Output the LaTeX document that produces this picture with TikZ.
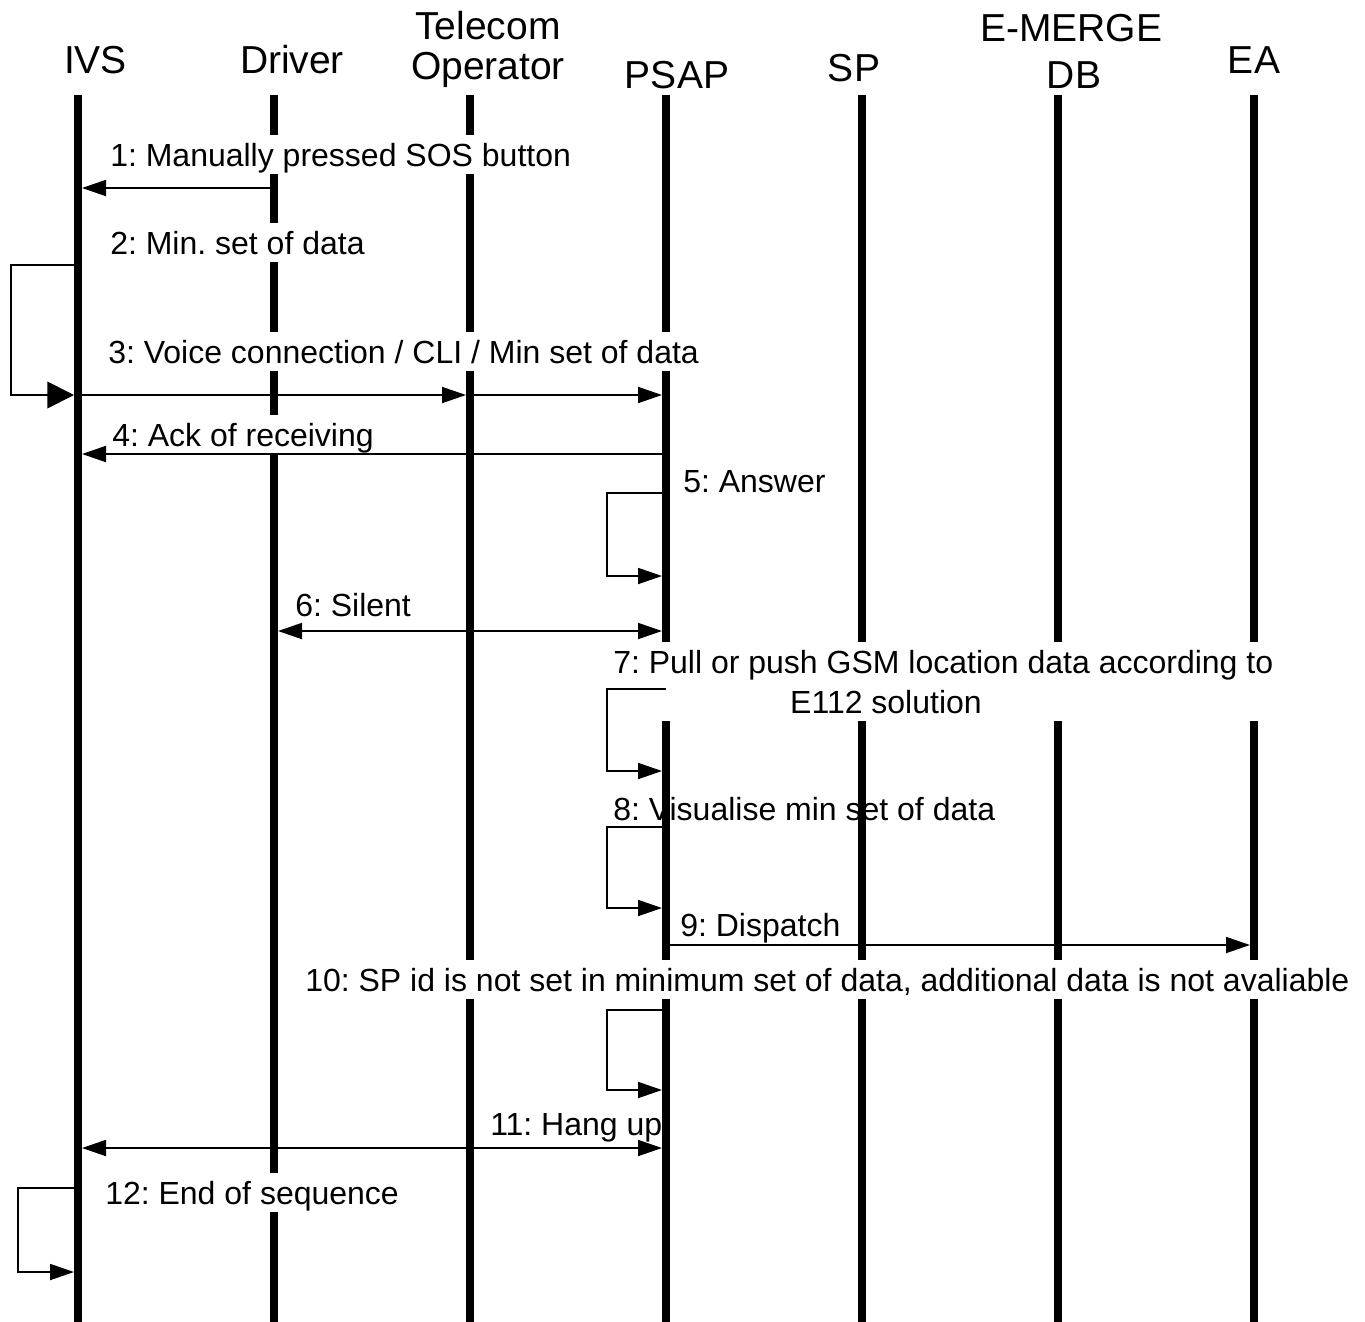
\documentclass[tikz,border=0pt]{standalone}
\usepackage{fontspec}
\setmainfont{Liberation Sans}
\usetikzlibrary{arrows.meta}
\begin{document}
\begin{tikzpicture}[x=0.75pt,y=-0.75pt,
  head/.style={font=\fontsize{29.25}{35}\selectfont, inner sep=0pt, anchor=base},
  lifeline/.style={line width=5.6pt},
  msg/.style={line width=1.4pt, -{Triangle[length=18pt,width=12pt]}},
  bigmsg/.style={line width=1.4pt, -{Triangle[length=20pt,width=20pt]}},
  dmsg/.style={line width=1.4pt, {Triangle[length=18pt,width=12pt]}-{Triangle[length=18pt,width=12pt]}},
  lbl/.style={font=\fontsize{24}{29}\selectfont\frenchspacing, inner sep=0pt, anchor=base west,
    text height=23pt, text depth=6pt, fill=white},
  plainlbl/.style={lbl, fill=none}]
\useasboundingbox (0,0) rectangle (1365,1322);

% participants
\node[head] (hivs)  at (95.5,73) {IVS};
\node[head] (hdrv)  at (292,73)  {Driver};
\node[head] (htel1) at (488,39)  {Telecom};
\node[head] (htel2) at (488,79)  {Operator};
\node[head] (hpsap) at (677,88)  {PSAP};
\node[head] (hsp)   at (854,81)  {SP};
\node[head] (hdb1)  at (1071,41) {E-MERGE};
\node[head] (hdb2)  at (1074,88) {DB};
\node[head] (hea)   at (1254,73) {EA};

% lifelines, with their left and right edges for arrow ends
\foreach \n/\x in {ivs/78,drv/274,tel/470,psap/666,sp/862,db/1058,ea/1254} {
  \coordinate (\n) at (\x,95);
  \coordinate (\n-l) at (\x-4,95);
  \coordinate (\n-r) at (\x+4,95);
  \draw[lifeline] (\n) -- (\n |- 0,1322);
}

% message labels (white boxes cut the lifelines)
\node[lbl] (l1)  at (110,166) {1: Manually pressed SOS button};
\node[lbl] (l2)  at (110,254) {2: Min. set of data};
\node[lbl] (l3)  at (108,363) {3: Voice connection / CLI / Min set of data};
\node[lbl] (l4)  at (112,446) {4: Ack of receiving};
\node[plainlbl] (l5)  at (683,492) {5: Answer};
\node[plainlbl] (l6)  at (295,616) {6: Silent};
\node[lbl, text depth=36pt] (l7a) at (613,673) {7: Pull or push GSM location data according to};
\node[plainlbl, anchor=base] (l7b) at (886,713) {E112 solution};
\node[plainlbl] (l8) at (613,820) {8: Visualise min set of data};
\node[plainlbl] (l9)  at (680,936) {9: Dispatch};
\node[lbl] (l10) at (305,991) {10: SP id is not set in minimum set of data, additional data is not avaliable};
\node[plainlbl] (l11) at (490,1135) {11: Hang up};
\node[lbl] (l12) at (105,1204) {12: End of sequence};

% messages
\draw[msg] (drv-l |- 0,188) -- (ivs-r |- 0,188);
\draw[bigmsg] (ivs-l |- 0,265) -- (11,265) -- (11,395) -- (ivs-l |- 0,395);
\draw[msg] (ivs-r |- 0,395) -- (tel-l |- 0,395);
\draw[msg] (tel-r |- 0,395) -- (psap-l |- 0,395);
\draw[msg] (psap-l |- 0,454) -- (ivs-r |- 0,454);
\draw[msg] (psap-l |- 0,493) -- (607,493) -- (607,576) -- (psap-l |- 0,576);
\draw[dmsg] (drv-r |- 0,631) -- (psap-l |- 0,631);
\draw[msg] (psap |- 0,689) -- (607,689) -- (607,771) -- (psap-l |- 0,771);
\draw[msg] (psap-l |- 0,827) -- (607,827) -- (607,908) -- (psap-l |- 0,908);
\draw[msg] (psap-r |- 0,945) -- (ea-l |- 0,945);
\draw[msg] (psap-l |- 0,1010) -- (607,1010) -- (607,1090) -- (psap-l |- 0,1090);
\draw[dmsg] (ivs-r |- 0,1148) -- (psap-l |- 0,1148);
\draw[msg] (ivs-l |- 0,1188) -- (18,1188) -- (18,1272) -- (ivs-l |- 0,1272);
\end{tikzpicture}
\end{document}
